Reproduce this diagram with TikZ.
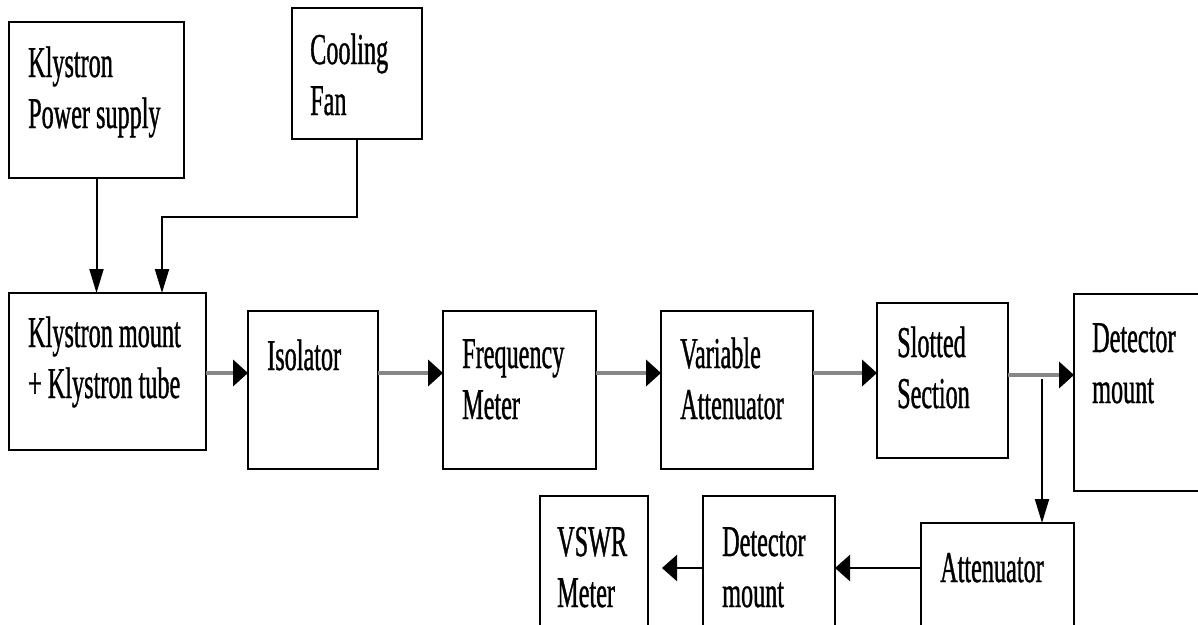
\documentclass[tikz,border=0pt]{standalone}
\usepackage{fontspec}
\setmainfont{Liberation Serif}[FakeStretch=0.55,FakeBold=0.8]
\usetikzlibrary{arrows.meta}
\definecolor{linegray}{RGB}{135,135,135}
\begin{document}
\begin{tikzpicture}[x=1pt,y=-1pt,
  box/.style={draw=black, line width=2pt, inner sep=0pt, outer sep=0pt, anchor=north west},
  lbl/.style={inner sep=0pt, anchor=base west, align=left, font=\fontsize{44}{51}\selectfont},
  mainarrow/.style={draw=linegray, line width=4pt, -{Triangle[color=black,length=15pt,width=26pt]}},
  varrow/.style={draw=black, line width=2pt, -{Triangle[length=24pt,width=14pt]}},
  barrow/.style={draw=black, line width=2.5pt, -{Triangle[length=15pt,width=26pt]}}]
\clip (0,0) rectangle (1198,624);
\fill[white] (0,0) rectangle (1198,624);
% boxes
\node[box, minimum width=175pt, minimum height=156pt] (ps) at (9,22) {};
\node[box, minimum width=130pt, minimum height=131pt] (fan) at (292,8) {};
\node[box, minimum width=197pt, minimum height=157pt] (km) at (9,293) {};
\node[box, minimum width=130pt, minimum height=158pt] (iso) at (248,311) {};
\node[box, minimum width=153pt, minimum height=158pt] (fm) at (443,311) {};
\node[box, minimum width=152pt, minimum height=158pt] (va) at (661,311) {};
\node[box, minimum width=131pt, minimum height=155pt] (ss) at (877,303) {};
\node[box, minimum width=141pt, minimum height=197pt] (dm) at (1074,294) {};
\node[box, minimum width=153pt, minimum height=140pt] (att) at (921,523) {};
\node[box, minimum width=132pt, minimum height=160pt] (dmb) at (703,496) {};
\node[box, minimum width=108pt, minimum height=160pt] (vswr) at (540,496) {};
% labels (base anchor = baseline of last line)
\node[lbl] (pst) at (28,128) {Klystron\\Power supply};
\node[lbl] (fant) at (310,115) {Cooling\\Fan};
\node[lbl] (kmt) at (28,398) {Klystron mount\\+ Klystron tube};
\node[lbl] (isot) at (267,370) {Isolator};
\node[lbl] (fmt) at (462,419) {Frequency\\Meter};
\node[lbl] (vat) at (680,419) {Variable\\Attenuator};
\node[lbl] (sst) at (897,408) {Slotted\\Section};
\node[lbl] (dmt) at (1092,403) {Detector\\mount};
\node[lbl] (vswrt) at (557,607) {VSWR\\Meter};
\node[lbl] (dmbt) at (722,607) {Detector\\mount};
\node[lbl] (attt) at (940,582) {Attenuator};
% connectors
\coordinate (row) at (0,373);
\coordinate (row2) at (0,375);
\coordinate (row3) at (0,568);
\coordinate (fanbend) at (162,217);
\coordinate (br) at (1042,379);
\coordinate (vswrtip) at (662,568);
\draw[varrow] (ps.south) -- (ps.south |- km.north);
\draw[varrow] (fan.south) |- (fanbend) -- (fanbend |- km.north);
\draw[mainarrow] (km.east |- row) -- (iso.west |- row);
\draw[mainarrow] (iso.east |- row) -- (fm.west |- row);
\draw[mainarrow] (fm.east |- row) -- (va.west |- row);
\draw[mainarrow] (va.east |- row) -- (ss.west |- row);
\draw[mainarrow] (ss.east |- row2) -- (dm.west |- row2);
\draw[varrow] (br) -- (br |- att.north);
\draw[barrow] (att.west |- row3) -- (dmb.east |- row3);
\draw[barrow] (dmb.west |- row3) -- (vswrtip);
\end{tikzpicture}
\end{document}
